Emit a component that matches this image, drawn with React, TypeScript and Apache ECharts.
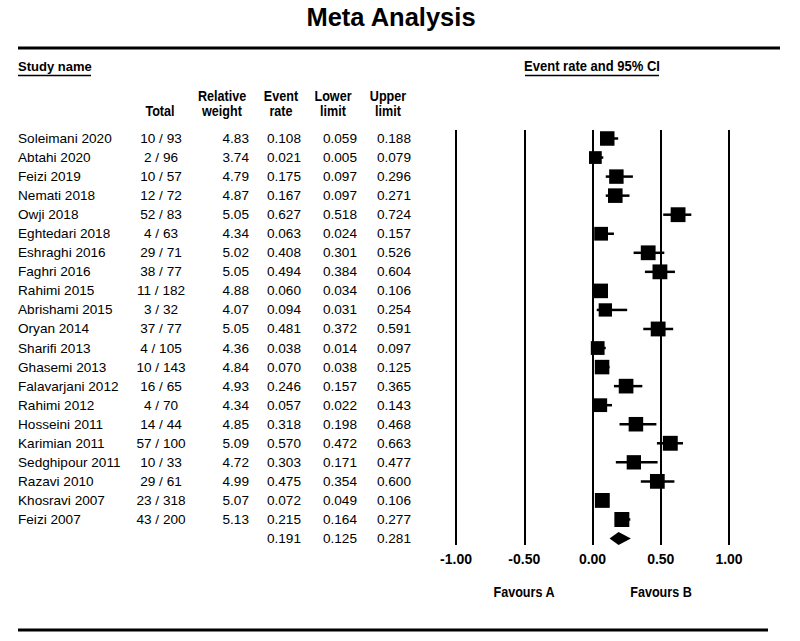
import React, { useEffect, useRef } from "react";
import * as echarts from "echarts";

const studies = [
  "Soleimani 2020", "Abtahi 2020", "Feizi 2019", "Nemati 2018", "Owji 2018",
  "Eghtedari 2018", "Eshraghi 2016", "Faghri 2016", "Rahimi 2015", "Abrishami 2015",
  "Oryan 2014", "Sharifi 2013", "Ghasemi 2013", "Falavarjani 2012", "Rahimi 2012",
  "Hosseini 2011", "Karimian 2011", "Sedghipour 2011", "Razavi 2010", "Khosravi 2007",
  "Feizi 2007",
];
const totals = [
  "10 / 93", "2 / 96", "10 / 57", "12 / 72", "52 / 83", "4 / 63", "29 / 71", "38 / 77",
  "11 / 182", "3 / 32", "37 / 77", "4 / 105", "10 / 143", "16 / 65", "4 / 70", "14 / 44",
  "57 / 100", "10 / 33", "29 / 61", "23 / 318", "43 / 200",
];
const weights = [4.83, 3.74, 4.79, 4.87, 5.05, 4.34, 5.02, 5.05, 4.88, 4.07, 5.05, 4.36, 4.84, 4.93, 4.34, 4.85, 5.09, 4.72, 4.99, 5.07, 5.13];
const eventRates = [0.108, 0.021, 0.175, 0.167, 0.627, 0.063, 0.408, 0.494, 0.060, 0.094, 0.481, 0.038, 0.070, 0.246, 0.057, 0.318, 0.570, 0.303, 0.475, 0.072, 0.215];
const lowerLimits = [0.059, 0.005, 0.097, 0.097, 0.518, 0.024, 0.301, 0.384, 0.034, 0.031, 0.372, 0.014, 0.038, 0.157, 0.022, 0.198, 0.472, 0.171, 0.354, 0.049, 0.164];
const upperLimits = [0.188, 0.079, 0.296, 0.271, 0.724, 0.157, 0.526, 0.604, 0.106, 0.254, 0.591, 0.097, 0.125, 0.365, 0.143, 0.468, 0.663, 0.477, 0.600, 0.106, 0.277];
const summaryRate = 0.191;
const summaryLower = 0.125;
const summaryUpper = 0.281;
const xTicks = [-1, -0.5, 0, 0.5, 1];

const FONT = '"Liberation Sans", Arial, sans-serif';

// layout (pixel positions of table columns in the table grid)
const COL_NAME = 18;
const COL_TOTAL = 161;
const COL_WEIGHT = 249;
const COL_RATE = 301;
const COL_LOWER = 357;
const COL_UPPER = 411;

const fmt = (v: number) => v.toFixed(3);

export default function App() {
  const ref = useRef<HTMLDivElement>(null);
  useEffect(() => {
    if (!ref.current) return;
    const chart = echarts.init(ref.current, null, { renderer: "svg" });
    const nRows = studies.length + 1;
    const yMin = -0.446;
    const yMax = 21.34;
    const txt = (text: string, x: number, y: number, align: string, size: number) => ({
      type: "text",
      x,
      y,
      style: { text, align, verticalAlign: "middle", fontFamily: FONT, fontSize: size, fill: "#000" },
    });
    const tableRow = (params: any, api: any) => {
      const i = params.dataIndex;
      const p = api.coord([0, api.value(1)]);
      const y = p[1];
      const s = 13.6;
      const children: any[] = [];
      if (i < studies.length) {
        children.push(txt(studies[i], COL_NAME, y, "left", s));
        children.push(txt(totals[i], COL_TOTAL, y, "center", s));
        children.push(txt(weights[i].toFixed(2), COL_WEIGHT, y, "right", s));
        children.push(txt(fmt(eventRates[i]), COL_RATE, y, "right", s));
        children.push(txt(fmt(lowerLimits[i]), COL_LOWER, y, "right", s));
        children.push(txt(fmt(upperLimits[i]), COL_UPPER, y, "right", s));
      } else {
        children.push(txt(fmt(summaryRate), COL_RATE, y, "right", s));
        children.push(txt(fmt(summaryLower), COL_LOWER, y, "right", s));
        children.push(txt(fmt(summaryUpper), COL_UPPER, y, "right", s));
      }
      return { type: "group", children };
    };
    const forest = (params: any, api: any) => {
      const c = api.coord([api.value(0), api.value(1)]);
      const lo = api.coord([api.value(2), api.value(1)]);
      const hi = api.coord([api.value(3), api.value(1)]);
      const size = Math.sqrt(api.value(4)) * 6.6;
      return {
        type: "group",
        children: [
          { type: "line", shape: { x1: lo[0], y1: c[1], x2: hi[0], y2: c[1] }, style: { stroke: "#000", lineWidth: 2.5 } },
          { type: "rect", shape: { x: c[0] - size / 2, y: c[1] - size / 2, width: size, height: size }, style: { fill: "#000" } },
        ],
      };
    };
    const diamond = (params: any, api: any) => {
      const c = api.coord([api.value(0), api.value(1)]);
      const lo = api.coord([api.value(2), api.value(1)]);
      const hi = api.coord([api.value(3), api.value(1)]);
      const h = 6.5;
      return {
        type: "polygon",
        shape: { points: [[lo[0], c[1]], [c[0], c[1] - h], [hi[0], c[1]], [c[0], c[1] + h]] },
        style: { fill: "#000" },
      };
    };
    const hline = (x1: number, x2: number, y: number, w: number) => ({
      type: "line",
      shape: { x1, y1: y, x2, y2: y },
      style: { stroke: "#000", lineWidth: w },
    });
    const gtext = (text: string, x: number, y: number, align: string, size: number, scaleX = 0.9) => ({
      type: "text",
      x,
      y,
      scaleX,
      style: { text, align, verticalAlign: "middle", fontFamily: FONT, fontSize: size, fontWeight: "bold", fill: "#000" },
    });

    chart.setOption({
      animation: false,
      backgroundColor: "#fff",
      grid: [
        { left: 456, right: 71, top: 130, bottom: 96 },
        { left: 0, width: 440, top: 130, bottom: 96 },
      ],
      xAxis: [
        {
          type: "value",
          gridIndex: 0,
          min: -1,
          max: 1,
          interval: 0.5,
          axisLine: { show: false },
          axisTick: { show: false },
          splitLine: { show: true, showMinLine: true, showMaxLine: true, lineStyle: { color: "#000", width: 2 } },
          axisLabel: {
            margin: 7,
            fontFamily: FONT,
            fontWeight: "bold",
            fontSize: 14,
            color: "#000",
            formatter: (v: number) => (xTicks.indexOf(v) >= 0 ? v.toFixed(2) : ""),
          },
        },
        { type: "value", gridIndex: 1, min: 0, max: 440, show: false },
      ],
      yAxis: [
        { type: "value", gridIndex: 0, min: yMin, max: yMax, inverse: true, show: false },
        { type: "value", gridIndex: 1, min: yMin, max: yMax, inverse: true, show: false },
      ],
      series: [
        {
          type: "custom",
          xAxisIndex: 1,
          yAxisIndex: 1,
          clip: false,
          renderItem: tableRow,
          data: Array.from({ length: nRows }, (_, i) => [0, i]),
        },
        {
          type: "custom",
          xAxisIndex: 0,
          yAxisIndex: 0,
          clip: false,
          renderItem: forest,
          data: eventRates.map((r, i) => [r, i, lowerLimits[i], upperLimits[i], weights[i]]),
        },
        {
          type: "custom",
          xAxisIndex: 0,
          yAxisIndex: 0,
          clip: false,
          renderItem: diamond,
          data: [[summaryRate, studies.length, summaryLower, summaryUpper]],
        },
      ],
      graphic: [
        gtext("Meta Analysis", 391, 16.5, "center", 25.5, 1),
        hline(18, 780, 48, 3),
        gtext("Study name", 18, 66.5, "left", 13, 1),
        hline(18, 91, 75.5, 1.5),
        gtext("Event rate and 95% CI", 592, 66.5, "center", 14, 0.93),
        hline(525, 659, 75.5, 1.5),
        gtext("Relative", 222, 96.5, "center", 14),
        gtext("weight", 222, 111.5, "center", 14),
        gtext("Event", 281, 96.5, "center", 14),
        gtext("rate", 281, 111.5, "center", 14),
        gtext("Lower", 333, 96.5, "center", 14),
        gtext("limit", 333, 111.5, "center", 14),
        gtext("Upper", 388, 96.5, "center", 14),
        gtext("limit", 388, 111.5, "center", 14),
        gtext("Total", 160, 111.5, "center", 14),
        gtext("Favours A", 524, 592, "center", 14),
        gtext("Favours B", 661, 592, "center", 14),
        hline(18, 768, 630, 3),
      ],
    });
    return () => chart.dispose();
  }, []);
  return (
    <div
      ref={ref}
      style={{ position: "fixed", left: 0, top: 0, width: 800, height: 641, background: "#fff" }}
    />
  );
}
